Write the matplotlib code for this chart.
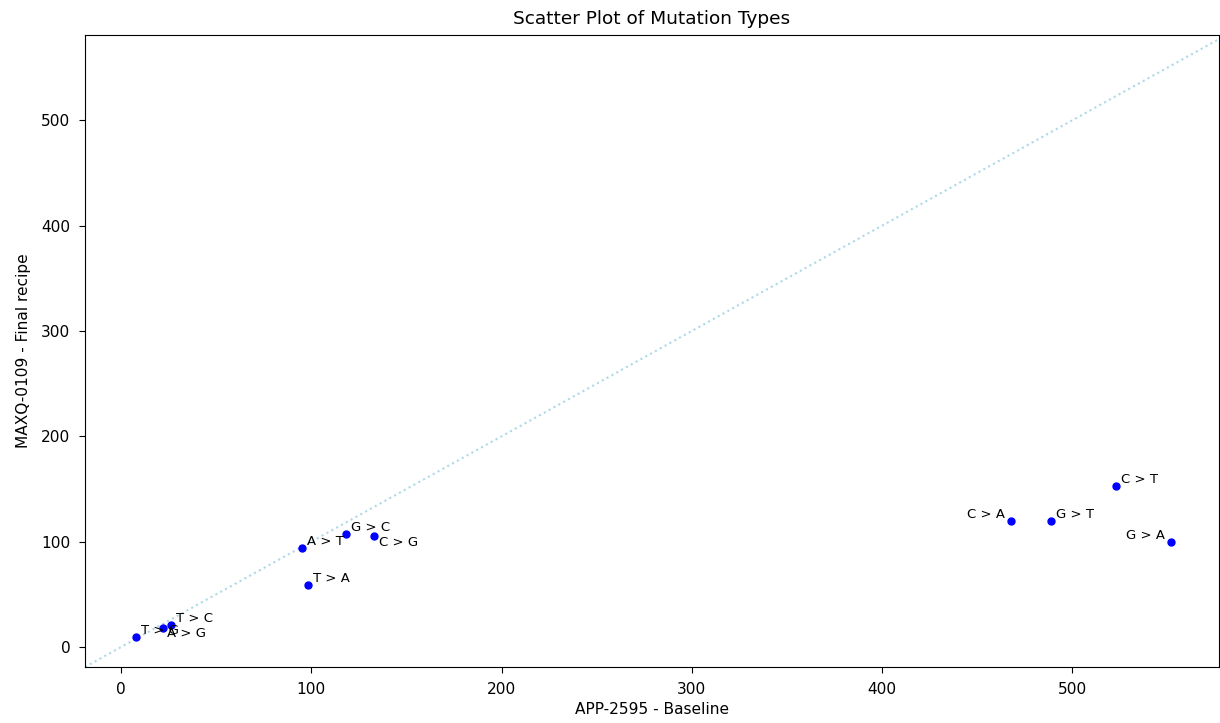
import matplotlib
matplotlib.use("Agg")
import matplotlib.pyplot as plt

mutations = ["T > G", "A > G", "T > C", "A > T", "T > A", "G > C", "C > G",
             "C > A", "G > T", "C > T", "G > A"]
baseline = [8, 22, 26, 95, 98, 118, 133, 468, 489, 523, 552]
final_recipe = [9, 18, 21, 94, 59, 107, 105, 120, 120, 153, 100]

# label offsets in pixels (dx, dy, ha)
offsets = {
    "A > G": (4, -9, "left"),
    "C > G": (5, -10, "left"),
    "C > A": (-6, 3, "right"),
    "G > A": (-6, 3, "right"),
}

fig, ax = plt.subplots(figsize=(12.2, 7.23), dpi=100)
fig.subplots_adjust(left=0.0697, right=0.999, top=0.9516, bottom=0.0775)

ax.scatter(baseline, final_recipe, color="blue", s=25, zorder=3)
for name, x, y in zip(mutations, baseline, final_recipe):
    dx, dy, ha = offsets.get(name, (5, 3, "left"))
    ax.annotate(name, (x, y), xytext=(dx, dy), textcoords="offset pixels",
                ha=ha, va="baseline", fontsize=9.5)

ax.axline((0, 0), slope=1, color="lightblue", linestyle=":", linewidth=1.5)

ax.set_xlim(-19, 577)
ax.set_ylim(-19, 581)
ax.set_title("Scatter Plot of Mutation Types", fontsize=13.3, pad=8)
ax.set_xlabel("APP-2595 - Baseline", fontsize=11.1)
ax.set_ylabel("MAXQ-0109 - Final recipe", fontsize=11.1, labelpad=7)
ax.tick_params(labelsize=11.1, length=4.5, pad=6)

fig.savefig("out.png", dpi=100)
